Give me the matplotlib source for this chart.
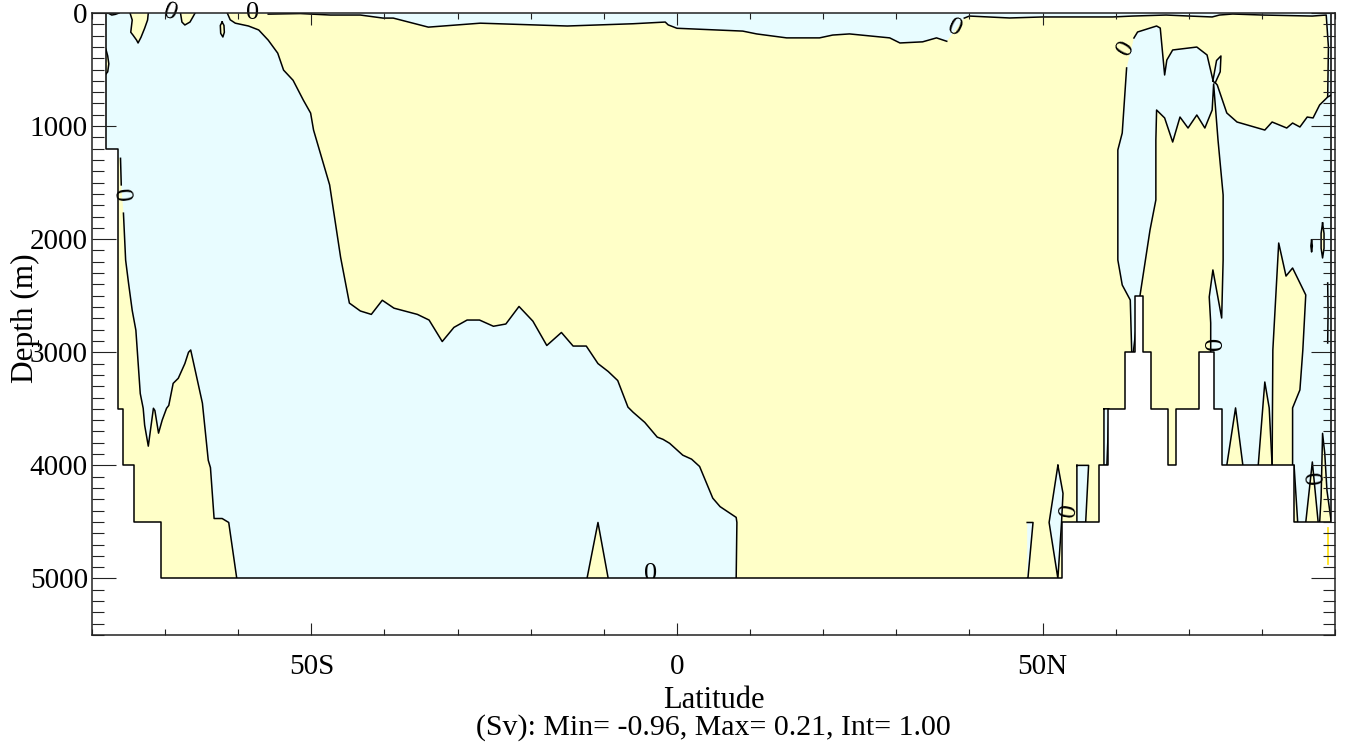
import numpy as np
import matplotlib.pyplot as plt

plt.rcParams['font.family'] = ['Liberation Serif', 'DejaVu Serif']

POS = '#FFFFC8'   # positive streamfunction
NEG = '#E8FCFF'   # negative streamfunction

# ------------------------------
# bathymetry: cell edges (deg) and depth of each cell (m)
# ------------------------------
bathy_edges = [-78.1, -76.5, -75.8, -74.3, -70.6, 52.6, 57.7, 59.0, 61.3, 62.6,
               63.7, 64.9, 67.1, 68.2, 71.4, 73.5, 74.6, 84.4, 89.5]
bathy_depth = [1200, 3500, 4000, 4500, 5000, 4500, 4000, 3500, 3000, 2500,
               3000, 3500, 4000, 3500, 3000, 3500, 4000, 4500]

# ------------------------------
# zero contours (lat, depth)
# ------------------------------
# southern cell / mid-ocean front
c1_lat = [-61.5, -61.1, -60.4, -58.6, -57.2, -55.9, -54.6, -53.8, -52.5, -51.1,
          -50.1, -49.7, -47.5, -46.0, -44.8, -43.3, -41.8, -40.3, -38.7, -35.5,
          -33.9, -32.1, -30.5, -28.7, -27.0, -25.1, -23.4, -21.6, -19.7, -17.8,
          -15.8, -14.2, -12.4, -10.8, -9.4, -8.1, -6.7, -6.0, -4.4, -2.7,
          -1.9, -1.0, 0.8, 2.0, 3.1, 4.9, 5.9, 8.1, 8.2, 8.1]
c1_dep = [0, 60, 90, 115, 150, 240, 355, 505, 595, 770,
          885, 1035, 1520, 2160, 2565, 2635, 2665, 2540, 2610, 2665,
          2715, 2905, 2780, 2715, 2715, 2770, 2750, 2595, 2725, 2940,
          2825, 2945, 2945, 3100, 3170, 3250, 3485, 3530, 3620, 3750,
          3770, 3805, 3910, 3945, 4010, 4290, 4365, 4460, 4505, 5000]

# near-surface layer
c2a_lat = [-55.9, -51.5, -47.4, -43.3, -40.2, -38.8, -34.0, -26.9, -19.7, -15.0,
           -6.0, -1.6, -1.2, 0.0, 9.0, 10.9, 15.0, 19.5, 21.3, 23.6,
           29.1, 30.5, 33.6, 35.5, 36.9]
c2a_dep = [10, 5, 18, 18, 45, 45, 125, 90, 105, 115,
           95, 80, 105, 135, 160, 185, 220, 220, 195, 185,
           220, 265, 255, 220, 250]
c2b_lat = [39.3, 40.0, 45.5, 50.0, 55.5, 59.6, 62.3, 66.9, 70.1, 73.2,
           74.2, 76.0, 80.1, 86.9, 88.8, 89.1, 89.0]
c2b_dep = [45, 27, 44, 35, 35, 35, 27, 18, 27, 35,
           18, 9, 18, 27, 18, 300, 740]

# deep positive cell next to Antarctica
c3_lat = [-76.1, -76.0, -75.7, -75.4, -75.0, -74.5, -74.0, -73.4, -73.0, -72.8,
          -72.3, -71.6, -71.4, -70.9, -70.4, -69.8, -69.5, -68.9, -68.2, -67.3,
          -66.8, -66.5, -65.8, -64.9, -64.1, -63.8, -63.3, -62.2, -61.3, -60.2]
c3_dep = [1285, 1520, 1770, 2185, 2390, 2630, 2805, 3365, 3495, 3645,
          3830, 3495, 3515, 3715, 3600, 3495, 3470, 3275, 3230, 3100,
          3000, 2980, 3185, 3450, 3955, 4020, 4470, 4470, 4505, 5000]

# small positive patches near the Antarctic surface
blob_a_lat = [-77.8, -77.3, -76.8, -76.3]
blob_a_dep = [0, 18, 12, 0]
blob_b_lat = [-74.8, -74.5, -74.7, -74.4, -73.9, -73.7, -73.3, -72.8, -72.4, -72.3]
blob_b_dep = [0, 62, 170, 195, 240, 265, 215, 135, 62, 0]
blob_c_lat = [-67.9, -67.7, -67.3, -66.6, -66.2, -65.9]
blob_c_dep = [0, 80, 106, 80, 35, 0]
blob_d_lat = [-62.2, -61.95, -61.9, -62.1, -62.4, -62.45, -62.2]
blob_d_dep = [80, 110, 170, 212, 180, 110, 80]
blob_e_lat = [-78.1, -77.85, -77.7, -77.85, -78.1]
blob_e_dep = [320, 380, 450, 520, 540]

# positive sliver on the equatorial floor
s0_lat = [-12.3, -10.8, -9.4]
s0_dep = [5000, 4505, 5000]

# northern negative cell
r1w_lat = [62.2, 62.0, 60.9, 60.3, 60.3, 60.9, 61.5]
r1w_dep = [3006, 2538, 2405, 2184, 1211, 1061, 486]
r1t_lat = [62.5, 63.0, 65.6, 66.1, 66.7, 67.0, 67.8, 71.1, 72.5, 73.3,
           73.9, 75.2, 76.6, 80.4, 81.4, 83.4, 84.2, 85.2, 86.2, 87.0,
           87.9, 89.0, 89.5]
r1t_dep = [221, 168, 115, 133, 548, 416, 327, 301, 371, 592,
           637, 884, 964, 1035, 964, 1017, 973, 1008, 920, 928,
           813, 743, 725]

# positive pocket inside it
y1_lat = [62.4, 63.3, 64.7, 65.5, 65.5, 65.6, 66.7, 67.8, 68.8, 69.9,
          71.1, 72.2, 73.2, 73.4, 74.0, 74.7, 74.7, 74.5, 73.3, 72.8,
          73.0, 73.0]
y1_dep = [3006, 2511, 1919, 1653, 1123, 858, 928, 1141, 920, 1017,
          902, 1017, 858, 628, 1123, 1609, 2184, 2697, 2272, 2511,
          2741, 3006]
leaf_lat = [73.3, 73.8, 74.4, 74.3, 73.6, 73.3]
leaf_dep = [600, 420, 380, 520, 620, 600]

# positive spikes on the Arctic floor
s1_lat, s1_dep = [75.2, 76.4, 77.4], [4000, 3492, 4000]
s2_lat, s2_dep = [79.5, 80.4, 81.0, 81.4], [4000, 3263, 3492, 4000]
s3_lat = [81.4, 81.5, 82.3, 83.3, 84.2, 85.2, 86.0, 85.6, 85.2, 84.2, 84.2]
s3_dep = [4000, 2980, 2034, 2326, 2255, 2387, 2493, 2980, 3333, 3492, 4000]
s4_lat, s4_dep = [86.0, 86.9, 87.7], [4505, 3970, 4505]
s5_lat = [87.9, 88.1, 88.3, 88.6, 88.9, 89.5]
s5_dep = [4505, 4284, 3717, 3894, 4222, 4505]
s6_lat, s6_dep = [84.4, 84.9, 84.4], [4000, 4505, 4505]

# negative slivers on the North Atlantic floor
n1_lat, n1_dep = [47.9, 48.7, 48.0, 47.9], [4505, 4505, 5000, 5000]
n2_lat, n2_dep = [52.1, 52.8, 52.6, 52.1, 50.9, 52.1], [4000, 4248, 4505, 5000, 4505, 4000]
n3_lat, n3_dep = [54.7, 56.3, 55.9, 54.7, 54.7], [4000, 4000, 4505, 4505, 4000]
n4_lat, n4_dep = [58.4, 59.1, 58.8, 58.4, 58.4], [3500, 3500, 4000, 4000, 3500]

# small closed contours against the northern boundary
e1_lat = [88.3, 88.5, 88.5, 88.3, 88.1, 88.1, 88.3]
e1_dep = [1857, 1950, 2080, 2166, 2080, 1950, 1857]
e2_lat = [86.8, 86.9, 86.8, 86.7, 86.8]
e2_dep = [2007, 2060, 2113, 2060, 2007]
e3_lat, e3_dep = [89.0, 89.1, 89.1, 89.0], [740, 1100, 1500, 1680]
e5_lat, e5_dep = [89.0, 89.05, 89.0], [2387, 2650, 2918]

# contour labels
lab_lat = [-69.3, -58.0, -75.2, 38.0, 61.4, 53.7, 73.7, 87.5]
lab_dep = [0, 0, 1590, 133, 310, 4400, 2920, 4105]
lab_rot = [-20, 0, 95, -25, 60, 80, 90, 95]
floor_lab_lat, floor_lab_dep = -3.6, 4960

# ==============================
# PLOT
# ==============================
fig = plt.figure(figsize=(13.47, 7.42), dpi=100)
ax = fig.add_axes([92 / 1347, 1 - 635 / 742, 1243 / 1347, 622 / 742])
ax.set_xlim(-80, 90)
ax.set_ylim(5500, 0)
ax.set_facecolor(POS)

LW = 1.1


def region(lat, dep, color, extra_lat=(), extra_dep=(), z=2, line=True):
    ax.fill(np.r_[lat, extra_lat], np.r_[dep, extra_dep], color=color, lw=0, zorder=z)
    if line:
        ax.plot(lat, dep, color='k', lw=LW, zorder=z + 0.1)


# southern negative cell
region(c1_lat, c1_dep, NEG, [-80, -80], [5000, 0], z=1)

# surface layer
ax.fill(np.r_[-57.9, c2a_lat, c2b_lat, 89.5, 89.5], np.r_[0, c2a_dep, c2b_dep, 740, 0],
        color=NEG, lw=0, zorder=1.2)
ax.plot(c2a_lat, c2a_dep, color='k', lw=LW, zorder=1.3)
ax.plot(c2b_lat, c2b_dep, color='k', lw=LW, zorder=1.3)
ax.plot(e3_lat, e3_dep, color='k', lw=LW, zorder=1.3)

# Antarctic positive pieces
ax.fill(np.r_[-76.6, c3_lat, -76.6], np.r_[1285, c3_dep, 5000], color=POS, lw=0, zorder=2)
ax.plot(c3_lat[:2], c3_dep[:2], color='k', lw=LW, zorder=2.1)
ax.plot(c3_lat[2:], c3_dep[2:], color='k', lw=LW, zorder=2.1)
region(s0_lat, s0_dep, POS)
for bl, bd in [(blob_a_lat, blob_a_dep), (blob_b_lat, blob_b_dep), (blob_c_lat, blob_c_dep),
               (blob_d_lat, blob_d_dep), (blob_e_lat, blob_e_dep)]:
    region(bl, bd, POS)

# northern negative cell with its positive pocket
ax.fill(np.r_[r1w_lat, r1t_lat, 89.5, 62.2], np.r_[r1w_dep, r1t_dep, 5500, 5500],
        color=NEG, lw=0, zorder=3)
ax.plot(r1w_lat, r1w_dep, color='k', lw=LW, zorder=3.1)
ax.plot(r1t_lat, r1t_dep, color='k', lw=LW, zorder=3.1)
region(y1_lat, y1_dep, POS, [73.0, 62.4], [4100, 4100], z=3.3)
region(leaf_lat, leaf_dep, NEG, z=3.3)

for sl, sd in [(s1_lat, s1_dep), (s2_lat, s2_dep), (s3_lat, s3_dep), (s4_lat, s4_dep),
               (s5_lat, s5_dep), (s6_lat, s6_dep)]:
    region(sl, sd, POS, z=3.5)
for nl, nd in [(n1_lat, n1_dep), (n2_lat, n2_dep), (n3_lat, n3_dep), (n4_lat, n4_dep)]:
    region(nl, nd, NEG, z=3.5)
region(e1_lat, e1_dep, POS, z=3.6)
region(e2_lat, e2_dep, POS, z=3.6)
ax.plot(e5_lat, e5_dep, color='k', lw=LW, zorder=3.6)

# contour labels
for la, de, ro in zip(lab_lat, lab_dep, lab_rot):
    ax.text(la, de, '0', fontsize=19, rotation=ro, ha='center', va='center',
            rotation_mode='anchor', zorder=7, clip_on=False)
ax.text(floor_lab_lat, floor_lab_dep, '0', fontsize=19, ha='center', va='center', zorder=4)

# land / sea floor
edges = np.asarray(bathy_edges)
floor_lat = np.r_[edges[0], np.repeat(edges, 2)[1:-1], edges[-1]]
floor_dep = np.r_[0, np.repeat(bathy_depth, 2), 0]
ax.fill(np.r_[-80, -80, floor_lat, 90, 90], np.r_[5500, 0, floor_dep, 0, 5500],
        color='white', lw=0, zorder=5)
ax.plot(floor_lat, floor_dep, color='k', lw=LW, zorder=5.1)
ax.plot([89.1, 89.1], [4550, 4870], color='#FFE21A', lw=1.3, zorder=5.2)

# ------------------------------
# axes
# ------------------------------
ax.set_xticks([-50, 0, 50])
ax.set_xticklabels(['50S', '0', '50N'])
ax.set_xticks(np.arange(-80, 91, 10), minor=True)
ax.set_yticks(np.arange(0, 5001, 1000))
ax.set_yticks(np.arange(0, 5501, 100), minor=True)
ax.tick_params(which='both', direction='in', top=True, right=True,
               labelsize=21, width=0.8, color='#222222')
ax.tick_params(axis='x', which='major', length=8.6, pad=14)
ax.tick_params(axis='x', which='minor', length=4.3)
ax.tick_params(axis='y', which='major', length=17.3, pad=3)
ax.tick_params(axis='y', which='minor', length=8.6)
ax.xaxis.set_zorder(8)
ax.yaxis.set_zorder(8)
for sp in ax.spines.values():
    sp.set_linewidth(1.1)
    sp.set_color('#222222')
    sp.set_zorder(9)

ax.text(0.5, -0.105, 'Latitude', transform=ax.transAxes, fontsize=22,
        ha='center', va='center')
ax.text(0.5, -0.148, '(Sv): Min= -0.96, Max= 0.21, Int= 1.00', transform=ax.transAxes,
        fontsize=21.5, ha='center', va='center')
fig.text(25 / 1347, 1 - 318 / 742, 'Depth (m)', rotation=90, fontsize=22.5,
         ha='center', va='center')

fig.savefig('out.png', dpi=100)
